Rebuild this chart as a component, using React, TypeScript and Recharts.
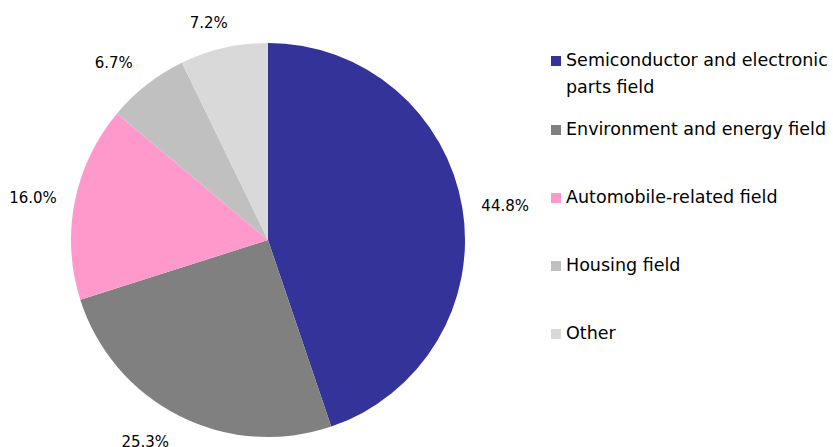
import React from "react";
import { PieChart, Pie, Cell, Legend } from "recharts";

const categories = [
  "Semiconductor and electronic parts field",
  "Environment and energy field",
  "Automobile-related field",
  "Housing field",
  "Other",
];
const shares = [44.8, 25.3, 16.0, 6.7, 7.2];
const colors = ["#333399", "#808080", "#FF99CC", "#C0C0C0", "#D9D9D9"];

const data = categories.map((name, i) => ({ name, value: shares[i] }));

const FONT = "'DejaVu Sans', sans-serif";
const RAD = Math.PI / 180;
const LABEL_GAP = 20;
const LABEL_H = 15;
// small manual nudges (px) per label, as in the original layout
const LABEL_NUDGE: [number, number][] = [
  [-1, 5],
  [-17, -7],
  [2, 5],
  [-10, 8],
  [-8, 6],
];

const renderLabel = (props: any) => {
  const { cx, cy, midAngle, outerRadius, value, index } = props;
  const text = `${value.toFixed(1)}%`;
  const w = text.length * 9.4;
  const c = Math.cos(-midAngle * RAD);
  const s = Math.sin(-midAngle * RAD);
  const r = outerRadius + LABEL_GAP + (w / 2) * Math.abs(c) + (LABEL_H / 2) * Math.abs(s);
  const [nx, ny] = LABEL_NUDGE[index] || [0, 0];
  const x = cx + r * c + nx;
  const y = cy + r * s + ny;
  return (
    <text
      x={x}
      y={y}
      textAnchor="middle"
      dominantBaseline="central"
      fill="#000"
      fontSize={15}
      fontFamily={FONT}
    >
      {text}
    </text>
  );
};

const itemTops = [0, 69, 137, 205, 273];

const renderLegend = () => {
  return (
    <div style={{ position: "relative", width: 290, height: 320, fontFamily: FONT, fontSize: 17.5, color: "#000" }}>
      {categories.map((name, i) => (
        <div
          key={name}
          style={{ position: "absolute", left: 0, top: itemTops[i], display: "flex", alignItems: "flex-start" }}
        >
          <div
            style={{ width: 10, height: 10, background: colors[i], marginTop: 9, marginRight: 5, flexShrink: 0 }}
          />
          <div style={{ lineHeight: "27px", width: 270 }}>{name}</div>
        </div>
      ))}
    </div>
  );
};

export default function App() {
  return (
    <div style={{ position: "absolute", left: 0, top: 0, width: 833, height: 447, background: "#fff" }}>
      <PieChart width={833} height={447} margin={{ top: 0, right: 0, bottom: 0, left: 0 }}>
        <Pie
          data={data}
          dataKey="value"
          nameKey="name"
          cx={268}
          cy={240}
          outerRadius={197}
          startAngle={90}
          endAngle={-270}
          stroke="none"
          label={renderLabel}
          labelLine={false}
          isAnimationActive={false}
        >
          {data.map((d, i) => (
            <Cell key={d.name} fill={colors[i]} />
          ))}
        </Pie>
        <Legend
          layout="vertical"
          align="right"
          verticalAlign="top"
          content={renderLegend}
          wrapperStyle={{ left: 551, top: 47, width: 290 }}
        />
      </PieChart>
    </div>
  );
}
